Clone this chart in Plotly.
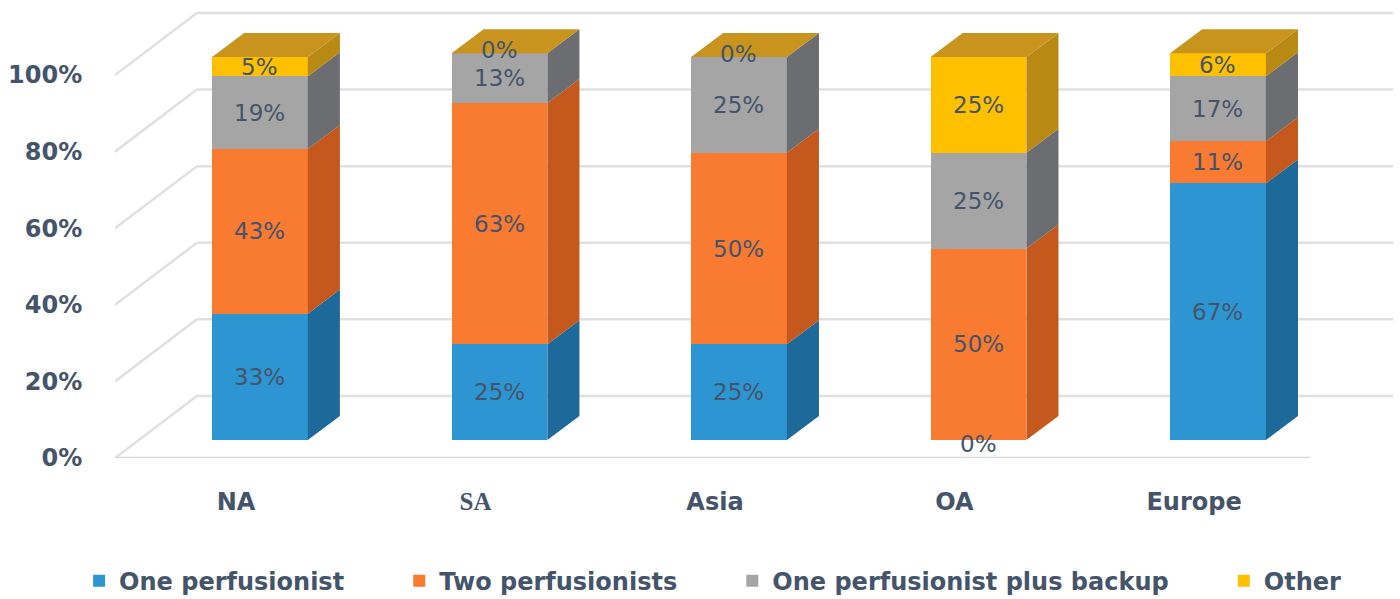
import plotly.graph_objects as go

# ---- data -------------------------------------------------------------
regions = ["NA", "SA", "Asia", "OA", "Europe"]
series_names = ["One perfusionist", "Two perfusionists",
                "One perfusionist plus backup", "Other"]
one_perfusionist = [33, 25, 25, 0, 67]
two_perfusionists = [43, 63, 50, 50, 11]
one_plus_backup = [19, 13, 25, 25, 17]
other = [5, 0, 0, 25, 6]
y_ticks = [0, 20, 40, 60, 80, 100]

series_values = [one_perfusionist, two_perfusionists, one_plus_backup, other]

# ---- style --------------------------------------------------------------
front_colors = ["#2e95d3", "#f97a31", "#a5a5a5", "#ffc000"]
side_colors = ["#1d6a9a", "#c4581d", "#6b6d71", "#b88a14"]
top_color = "#c8941e"
grid_color = "#e0e0e0"
text_color = "#44546a"
FONT = "DejaVu Sans"
NBSP = "\u00a0"

# oblique 3-D geometry, in axis units
X_RANGE = [-0.505, 4.839]
Y_RANGE = [0, 119.6]
WALL_DX, WALL_DY = 0.342, 16.2      # depth of the floor / side wall
BAR_SHIFT_X, BAR_BASE = 0.1, 4.7    # bar front plane offset from floor front
BAR_W = 0.4
DEPTH_DX, DEPTH_DY = 0.134, 6.27    # depth of each bar
FLOOR_END = 4.485
WALL_END = 4.831

fig = go.Figure()

# stacked bases for every segment
bases = []
for k in range(len(series_values)):
    row = []
    for i in range(len(regions)):
        row.append(BAR_BASE + sum(series_values[j][i] for j in range(k)))
    bases.append(row)
totals = [sum(s[i] for s in series_values) for i in range(len(regions))]

# front faces (these also carry the legend entries)
for k, name in enumerate(series_names):
    pad = NBSP * 6 if k < len(series_names) - 1 else ""
    fig.add_trace(go.Bar(
        x=[i + BAR_SHIFT_X for i in range(len(regions))],
        y=series_values[k],
        base=bases[k],
        width=BAR_W,
        name=name + pad,
        marker=dict(color=front_colors[k], line=dict(width=0)),
        hoverinfo="skip",
    ))

# right-hand side faces
for k in range(len(series_values)):
    xs, ys = [], []
    for i in range(len(regions)):
        v = series_values[k][i]
        if v <= 0:
            continue
        b = bases[k][i]
        xr = i + BAR_SHIFT_X + BAR_W / 2
        xs += [xr, xr + DEPTH_DX, xr + DEPTH_DX, xr, xr, None]
        ys += [b, b + DEPTH_DY, b + v + DEPTH_DY, b + v, b, None]
    fig.add_trace(go.Scatter(
        x=xs, y=ys, mode="lines", fill="toself",
        fillcolor=side_colors[k], line=dict(width=0, color=side_colors[k]),
        showlegend=False, hoverinfo="skip",
    ))

# top faces
xs, ys = [], []
for i in range(len(regions)):
    top = BAR_BASE + totals[i]
    xl = i + BAR_SHIFT_X - BAR_W / 2
    xr = i + BAR_SHIFT_X + BAR_W / 2
    xs += [xl, xr, xr + DEPTH_DX, xl + DEPTH_DX, xl, None]
    ys += [top, top, top + DEPTH_DY, top + DEPTH_DY, top, None]
fig.add_trace(go.Scatter(
    x=xs, y=ys, mode="lines", fill="toself",
    fillcolor=top_color, line=dict(width=0, color=top_color),
    showlegend=False, hoverinfo="skip",
))

# value labels on the front faces
annotations = []
for k in range(len(series_values)):
    for i in range(len(regions)):
        v = series_values[k][i]
        shift = 0
        if v == 0:
            shift = 3 if bases[k][i] > BAR_BASE else -4
        annotations.append(dict(
            x=i + BAR_SHIFT_X, y=bases[k][i] + v / 2,
            xref="x", yref="y", text=f"{v}%", showarrow=False,
            yshift=shift,
            font=dict(family=FONT, size=23, color=text_color),
        ))

# side-wall and back-wall gridlines
shapes = []
for t in y_ticks:
    shapes.append(dict(type="line", xref="x", yref="y", layer="below",
                       x0=X_RANGE[0], y0=t, x1=X_RANGE[0] + WALL_DX, y1=t + WALL_DY,
                       line=dict(color=grid_color, width=2.5)))
    shapes.append(dict(type="line", xref="x", yref="y", layer="below",
                       x0=X_RANGE[0] + WALL_DX, y0=t + WALL_DY, x1=WALL_END, y1=t + WALL_DY,
                       line=dict(color=grid_color, width=2.5)))
shapes.append(dict(type="line", xref="x", yref="y", layer="below",
                   x0=X_RANGE[0], y0=0, x1=FLOOR_END, y1=0,
                   line=dict(color="#d6d6d6", width=2.5)))

tick_text = [r if r != "SA" else
             '<span style="font-family:Liberation Serif;font-size:25px">SA</span>'
             for r in regions]

fig.update_layout(
    width=1400, height=599,
    margin=dict(l=115, r=5, t=0, b=141),
    paper_bgcolor="white", plot_bgcolor="white",
    barmode="overlay",
    bargap=0,
    shapes=shapes,
    annotations=annotations,
    font=dict(family=FONT, color=text_color),
    xaxis=dict(range=X_RANGE, showgrid=False, zeroline=False, showline=False,
               tickvals=list(range(len(regions))), ticktext=tick_text,
               ticks="outside", ticklen=22, tickcolor="rgba(0,0,0,0)",
               tickfont=dict(family=FONT, size=24, color=text_color, weight="bold")),
    yaxis=dict(range=Y_RANGE, showgrid=False, zeroline=False, showline=False,
               tickvals=y_ticks, ticktext=[f"{t}%" for t in y_ticks],
               ticks="outside", ticklen=27, tickcolor="rgba(0,0,0,0)",
               tickfont=dict(family=FONT, size=24, color=text_color, weight="bold")),
    legend=dict(orientation="h", xref="container", yref="container",
                x=0.509, xanchor="center", y=0.03, yanchor="middle",
                font=dict(family=FONT, size=24, color=text_color, weight="bold"),
                traceorder="normal"),
    showlegend=True,
)

fig.write_html("out.html")
